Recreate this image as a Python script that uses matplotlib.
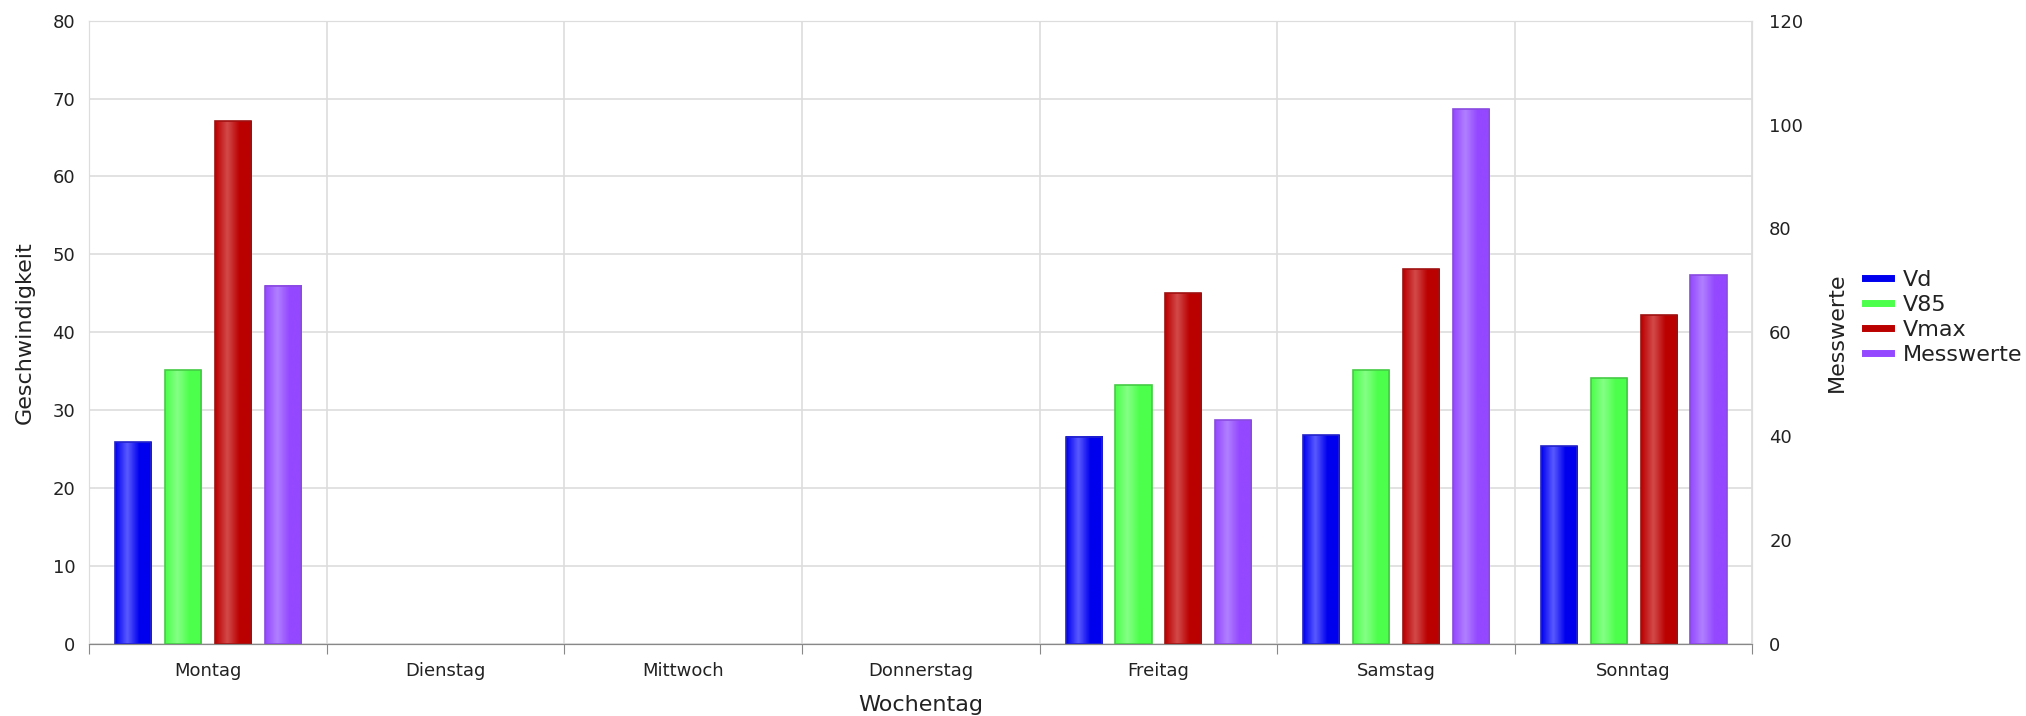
import numpy as np
import matplotlib.pyplot as plt
from matplotlib.colors import LinearSegmentedColormap

plt.rcParams['font.family'] = ['DejaVu Sans']

# Werte je Wochentag
days = ["Montag", "Dienstag", "Mittwoch", "Donnerstag", "Freitag", "Samstag", "Sonntag"]
vd = [25.9, 0, 0, 0, 26.6, 26.8, 25.4]
v85 = [35.1, 0, 0, 0, 33.2, 35.1, 34.1]
vmax = [67.1, 0, 0, 0, 45.0, 48.1, 42.2]
messwerte = [69, 0, 0, 0, 43, 103, 71]

# (edge, light, base) per series
styles = {
    "Vd": ("#2222cc", "#5a5aff", "#0000ee"),
    "V85": ("#44cc44", "#85ff85", "#4cff4c"),
    "Vmax": ("#a01010", "#d24a4a", "#bb0000"),
    "Messwerte": ("#8a4ae0", "#b080ff", "#9448ff"),
}

fig = plt.figure(figsize=(20.26, 7.16), dpi=100)
ax = fig.add_axes([0.044, 0.101, 0.821, 0.870])
ax2 = ax.twinx()

x = np.arange(len(days))
offsets = [-0.315, -0.105, 0.105, 0.315]
width = 0.152


def gradient_bar(axis, xc, h, name):
    if h <= 0:
        return
    edge, light, base = styles[name]
    cmap = LinearSegmentedColormap.from_list(name, [base, light, base, base])
    grad = np.linspace(0, 1, 64).reshape(1, -1)
    axis.imshow(grad, cmap=cmap, aspect="auto", extent=(xc - width / 2, xc + width / 2, 0, h),
                origin="lower", zorder=3, interpolation="bicubic")
    axis.bar(xc, h, width, facecolor="none", edgecolor=edge, linewidth=1.2, zorder=4)


for i in range(len(days)):
    gradient_bar(ax, x[i] + offsets[0], vd[i], "Vd")
    gradient_bar(ax, x[i] + offsets[1], v85[i], "V85")
    gradient_bar(ax, x[i] + offsets[2], vmax[i], "Vmax")
    gradient_bar(ax2, x[i] + offsets[3], messwerte[i], "Messwerte")

ax.set_xlim(-0.5, len(days) - 0.5)
ax.set_ylim(0, 80)
ax2.set_ylim(0, 120)
ax.set_yticks(range(0, 81, 10))
ax2.set_yticks(range(0, 121, 20))

ax.set_xticks(np.arange(-0.5, len(days), 1))
ax.set_xticklabels([])
ax.set_xticks(x, minor=True)
ax.set_xticklabels(days, minor=True, fontsize=13, color="#222222")
ax.tick_params(axis="x", which="major", length=7, color="#888888")
ax.tick_params(axis="x", which="minor", length=0, pad=13)
ax.tick_params(axis="y", length=0, labelsize=13, labelcolor="#222222", pad=10)
ax2.tick_params(axis="y", length=0, labelsize=13, labelcolor="#222222", pad=12)

ax.grid(True, which="major", color="#dddddd", linewidth=1.2)
ax.set_axisbelow(True)

for a in (ax, ax2):
    for s in ("top", "left", "right"):
        a.spines[s].set_color("#dddddd")
    a.spines["bottom"].set_color("#888888")

ax.set_xlabel("Wochentag", fontsize=16, color="#222222", labelpad=11)
ax.set_ylabel("Geschwindigkeit", fontsize=16, color="#222222", labelpad=13)
ax2.set_ylabel("Messwerte", fontsize=16, color="#222222", labelpad=17)

handles = [plt.Line2D([], [], color=styles[n][2], linewidth=5) for n in styles]
fig.legend(handles, list(styles.keys()), loc="upper left", bbox_to_anchor=(0.9105, 0.6506),
           frameon=False, fontsize=16, handlelength=1.2, handletextpad=0.5,
           labelspacing=0.22, labelcolor="#222222")

fig.savefig("out.png", dpi=100)
